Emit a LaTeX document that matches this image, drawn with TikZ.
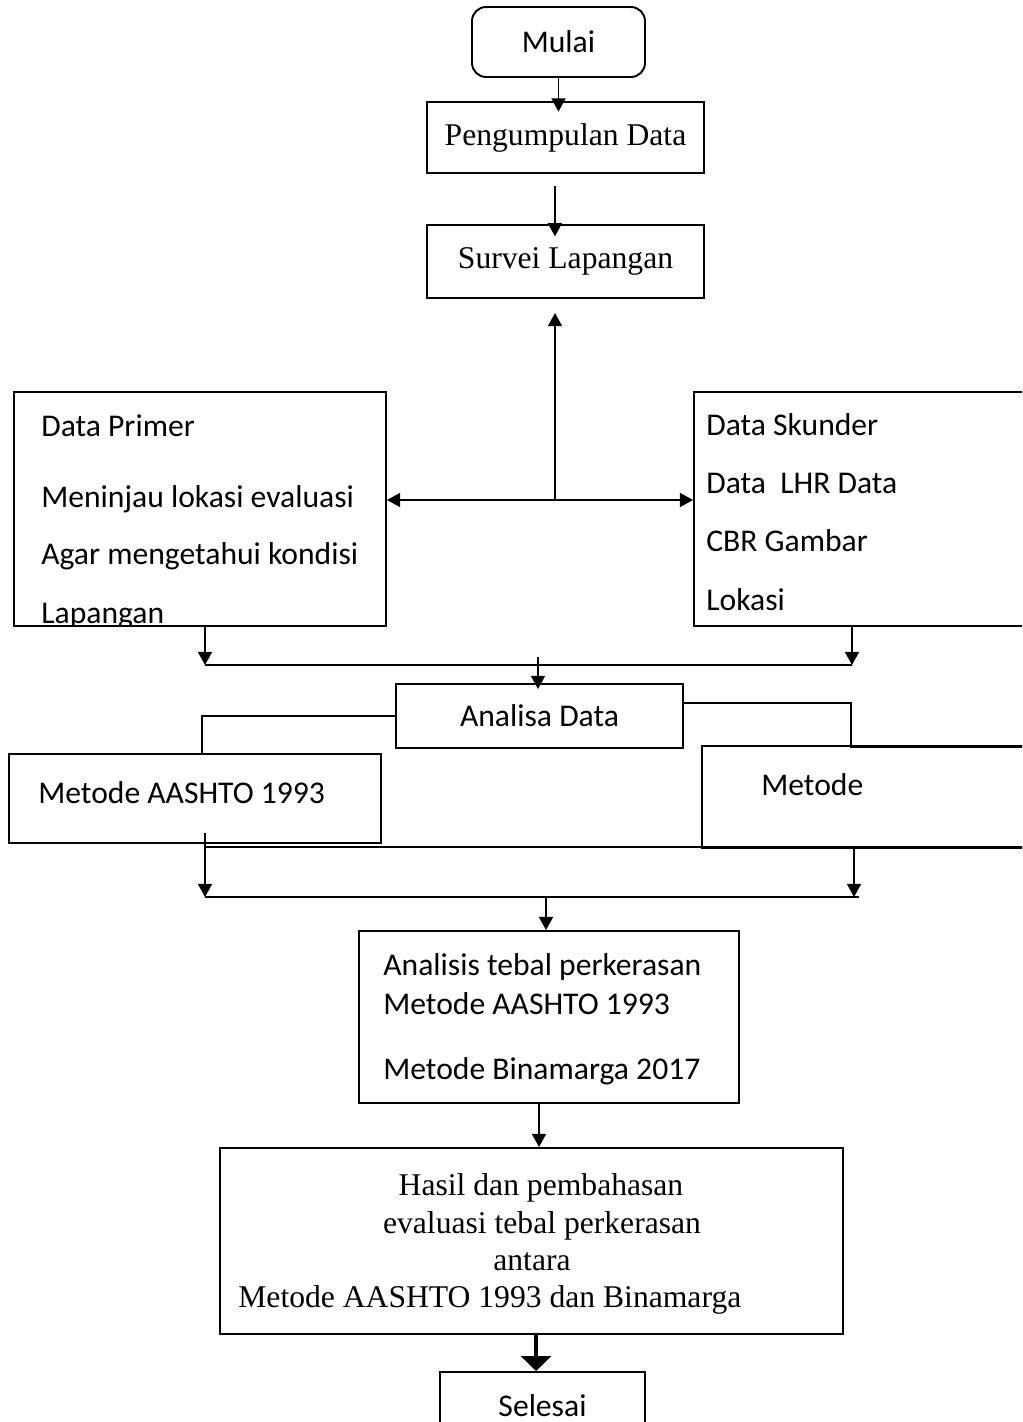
\documentclass[tikz,border=0pt]{standalone}
\usepackage{fontspec}
\setmainfont{Liberation Serif}
\newfontfamily\calib{Carlito}
\usetikzlibrary{arrows.meta, calc}

\begin{document}
\begin{tikzpicture}[
    x=0.02cm, y=-0.02cm,
    font=\fontsize{18}{22}\selectfont,
    box/.style={draw, line width=1.1pt, inner sep=0pt, align=center},
    sbox/.style={box, font=\fontsize{18}{22}\selectfont\calib},
    txt/.style={font=\fontsize{18}{22}\selectfont\calib, inner sep=0pt, anchor=base west},
    rtxt/.style={inner sep=0pt, anchor=base},
    ln/.style={line width=0.9pt},
    arr/.style={ln, -{Triangle[length=7.5pt, width=8pt]}},
    arrs/.style={ln, {Triangle[length=7.5pt, width=8pt]}-{Triangle[length=7.5pt, width=8pt]}},
    arrb/.style={line width=1.8pt, -{Triangle[length=8.5pt, width=17pt]}}]

  \useasboundingbox (0,0) rectangle (1022,1422);
  \clip (0,0) rectangle (1022,1422);

  % ---- mulai / pengumpulan / survei ----
  \node[sbox, rounded corners=8pt, minimum width=3.46cm, minimum height=1.40cm] (mulai) at (558.5,42) {Mulai};
  \node[box, minimum width=5.54cm, minimum height=1.42cm] (kumpul) at (565.5,137.5) {Pengumpulan Data};
  \node[box, minimum width=5.54cm, minimum height=1.46cm] (survei) at (565.5,261.5) {Survei Lapangan};

  % ---- data primer dan skunder ----
  \node[box, minimum width=7.44cm, minimum height=4.68cm] (primer) at (200,509) {};
  \node[box, minimum width=6.92cm, minimum height=4.68cm] (skunder) at (867,509) {};
  \begin{scope}
    \clip (primer.north west) rectangle (primer.south east);
    \node[txt] (p1) at (41,436) {Data Primer};
    \node[txt] (p2) at (41,507) {Meninjau lokasi evaluasi};
    \node[txt] (p3) at (41,564) {Agar mengetahui kondisi};
    \node[txt] (p4) at (41,623) {Lapangan};
  \end{scope}
  \node[txt] (s1) at (706,435) {Data Skunder};
  \node[txt] (s2) at (706,493) {Data~~LHR Data};
  \node[txt] (s3) at (706,551) {CBR Gambar};
  \node[txt] (s4) at (706,610) {Lokasi};

  % ---- analisa dan metode ----
  \node[sbox, minimum width=5.74cm, minimum height=1.28cm] (analisa) at (539.5,716) {Analisa Data};
  \node[box, minimum width=7.44cm, minimum height=1.78cm] (aashto) at (195,798.5) {};
  \node[txt] (a1) at (38,803) {Metode AASHTO 1993};
  \node[box, minimum width=6.76cm, minimum height=2.04cm] (metode) at (871,797) {};
  \node[txt] (m1) at (761,795) {Metode};

  % ---- analisis, hasil, selesai ----
  \node[box, minimum width=7.6cm, minimum height=3.44cm] (analisis) at (549,1017) {};
  \node[txt] (t1) at (383,975) {Analisis tebal perkerasan};
  \node[txt] (t2) at (383,1014) {Metode AASHTO 1993};
  \node[txt] (t3) at (383,1079) {Metode Binamarga 2017};

  \node[box, minimum width=12.46cm, minimum height=3.72cm] (hasil) at (531.5,1241) {};
  \node[rtxt] (h1) at (541,1195) {Hasil dan pembahasan};
  \node[rtxt] (h2) at (542,1233) {evaluasi tebal perkerasan};
  \node[rtxt] (h3) at (532,1270) {antara};
  \node[rtxt, anchor=base west] (h4) at (238,1307) {Metode AASHTO 1993 dan Binamarga};

  \node[sbox, minimum width=4.1cm, minimum height=1.36cm] (selesai) at (542.5,1406) {Selesai};

  % ---- connectors ----
  \draw[arr, shorten >=-6pt] (mulai.south) -- (mulai.south |- kumpul.north);
  \draw[arr, shorten <=7pt, shorten >=-7pt] ([xshift=-6pt]kumpul.south) -- ([xshift=-6pt]kumpul.south |- survei.north);

  \coordinate (hub) at (555,500);
  \draw[arr, shorten >=8pt] (hub) -- (hub |- survei.south);
  \draw[arrs] (hub -| primer.east) -- (hub -| skunder.west);

  \coordinate (kiri1) at (205,665);
  \coordinate (kanan1) at (852,665);
  \coordinate (tengah1) at (538,665);
  \draw[arr] (kiri1 |- primer.south) -- (kiri1);
  \draw[arr] (kanan1 |- skunder.south) -- (kanan1);
  \draw[ln] (kiri1) -- (kanan1);
  \draw[arr, shorten <=-4.5pt, shorten >=-3.4pt] (tengah1) -- (tengah1 |- analisa.north);

  \coordinate (kiri2) at (202,712);
  \coordinate (kanan2) at (851,703);
  \draw[ln] (analisa.west) -| (kiri2 |- aashto.north);
  \draw[ln] (kanan2 -| analisa.east) -| ([yshift=-1.2pt]metode.north -| kanan2) -- ([yshift=-1.2pt]metode.north east);

  \coordinate (kiri3) at (205,897);
  \coordinate (kanan3) at (854,897);
  \coordinate (tengah3) at (546,897);
  \draw[ln] ([yshift=-1.6pt]aashto.south -| kiri3) -- ([yshift=-1.6pt]aashto.south -| metode.east);
  \draw[arr] ([yshift=6pt]aashto.south -| kiri3) -- (kiri3);
  \draw[arr] (metode.south -| kanan3) -- (kanan3);
  \draw[ln] (kiri3) -- ([xshift=3pt]kanan3);
  \draw[arr] (tengah3) -- (tengah3 |- analisis.north);

  \draw[arr] ([xshift=-5.7pt]analisis.south) -- ([xshift=-5.7pt]analisis.south |- hasil.north);
  \draw[arrb] ([xshift=2.6pt]hasil.south) -- ([xshift=2.6pt]hasil.south |- selesai.north);
\end{tikzpicture}
\end{document}
